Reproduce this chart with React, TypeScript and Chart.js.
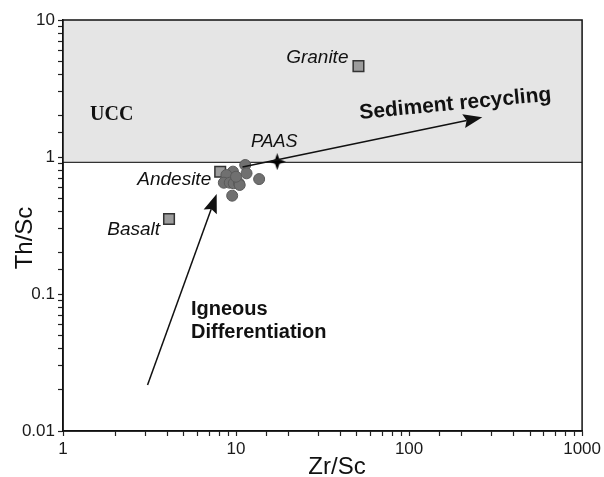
import React, { useEffect, useRef } from 'react';
import { Chart, registerables } from 'chart.js';

Chart.register(...registerables);

// ---- data ----
const sampleZrSc = [11.3, 9.6, 11.5, 13.6, 8.8, 8.5, 9.2, 9.7, 10.4, 10.5, 9.5, 10.0];
const sampleThSc = [0.874, 0.782, 0.76, 0.69, 0.739, 0.649, 0.649, 0.643, 0.643, 0.625, 0.522, 0.718];

const refNames = ['Granite', 'Andesite', 'Basalt'];
const refZrSc = [51, 8.1, 4.1];
const refThSc = [4.61, 0.78, 0.353];

const paasZrSc = [17.3];
const paasThSc = [0.925];

const uccThSc = 0.915;

// arrows: [igneous differentiation, sediment recycling]
const arrowFromZrSc = [3.08, 10.9];
const arrowFromThSc = [0.0217, 0.845];
const arrowToZrSc = [7.73, 265];
const arrowToThSc = [0.537, 1.95];

const xTickValues = [1, 10, 100, 1000];
const yTickValues = [0.01, 0.1, 1, 10];

const SANS = "'Liberation Sans', Arial, sans-serif";
const SERIF = "'Liberation Serif', 'Times New Roman', serif";

function makeStar(size: number) {
  const c = document.createElement('canvas');
  c.width = size;
  c.height = size;
  const ctx = c.getContext('2d')!;
  const h = size / 2;
  const w = size * 0.13;
  ctx.fillStyle = '#000';
  ctx.beginPath();
  ctx.moveTo(h, 0);
  ctx.lineTo(h + w, h - w);
  ctx.lineTo(size, h);
  ctx.lineTo(h + w, h + w);
  ctx.lineTo(h, size);
  ctx.lineTo(h - w, h + w);
  ctx.lineTo(0, h);
  ctx.lineTo(h - w, h - w);
  ctx.closePath();
  ctx.fill();
  return c;
}

function drawArrow(ctx: CanvasRenderingContext2D, x1: number, y1: number, x2: number, y2: number, len: number, half: number) {
  const a = Math.atan2(y2 - y1, x2 - x1);
  const c = Math.cos(a), s = Math.sin(a);
  const bx = x2 - len * c, by = y2 - len * s;
  const nx = x2 - (len - 3) * c, ny = y2 - (len - 3) * s;
  ctx.beginPath();
  ctx.moveTo(x1, y1);
  ctx.lineTo(nx, ny);
  ctx.stroke();
  ctx.beginPath();
  ctx.moveTo(x2, y2);
  ctx.lineTo(bx - half * s, by + half * c);
  ctx.lineTo(nx, ny);
  ctx.lineTo(bx + half * s, by - half * c);
  ctx.closePath();
  ctx.fill();
}

function isPow10(v: number) {
  const l = Math.log10(v);
  return Math.abs(l - Math.round(l)) < 1e-6;
}
function fmt(v: number) {
  const e = Math.round(Math.log10(v));
  return e < 0 ? Math.pow(10, e).toFixed(-e) : String(Math.round(Math.pow(10, e)));
}

const bandPlugin = {
  id: 'uccBand',
  beforeDatasetsDraw(chart: any) {
    const { ctx, chartArea: ca, scales } = chart;
    const y = scales.y.getPixelForValue(uccThSc);
    ctx.save();
    ctx.fillStyle = '#e5e5e5';
    ctx.fillRect(ca.left, ca.top, ca.right - ca.left, y - ca.top);
    ctx.strokeStyle = '#333';
    ctx.lineWidth = 1.2;
    ctx.beginPath();
    ctx.moveTo(ca.left, y);
    ctx.lineTo(ca.right, y);
    ctx.stroke();
    ctx.restore();
  },
};

const annotationPlugin = {
  id: 'annotations',
  afterDatasetsDraw(chart: any) {
    const { ctx, chartArea: ca, scales } = chart;
    const xs = scales.x, ys = scales.y;
    const px = (v: number) => xs.getPixelForValue(v);
    const py = (v: number) => ys.getPixelForValue(v);
    ctx.save();

    // frame
    ctx.strokeStyle = '#111';
    ctx.lineWidth = 1.5;
    ctx.strokeRect(ca.left, ca.top, ca.right - ca.left, ca.bottom - ca.top);

    // arrows
    ctx.strokeStyle = '#111';
    ctx.fillStyle = '#111';
    ctx.lineWidth = 1.5;
    for (let i = 0; i < arrowFromZrSc.length; i++) {
      drawArrow(ctx, px(arrowFromZrSc[i]), py(arrowFromThSc[i]), px(arrowToZrSc[i]), py(arrowToThSc[i]), 19, 7);
    }

    ctx.fillStyle = '#111';
    ctx.textBaseline = 'alphabetic';

    // reference labels
    ctx.font = `italic 19px ${SANS}`;
    ctx.textAlign = 'right';
    const offs: Record<string, [number, number]> = {
      Granite: [-10, -3],
      Andesite: [-9, 13],
      Basalt: [-9, 16],
    };
    refNames.forEach((n, i) => {
      const o = offs[n];
      ctx.fillText(n, px(refZrSc[i]) + o[0], py(refThSc[i]) + o[1]);
    });
    ctx.font = `italic 18px ${SANS}`;
    ctx.textAlign = 'center';
    ctx.fillText('PAAS', px(paasZrSc[0]) - 3, py(paasThSc[0]) - 15);

    // UCC
    ctx.font = `bold 20px ${SERIF}`;
    ctx.textAlign = 'left';
    ctx.fillText('UCC', ca.left + 27, ca.top + 100);

    // Sediment recycling (rotated)
    ctx.save();
    ctx.translate(ca.left + 297, ca.top + 99);
    ctx.rotate((-5.5 * Math.PI) / 180);
    ctx.font = `bold 21px ${SANS}`;
    ctx.textAlign = 'left';
    ctx.fillText('Sediment recycling', 0, 0);
    ctx.restore();

    // Igneous Differentiation
    ctx.font = `bold 20px ${SANS}`;
    ctx.textAlign = 'left';
    ctx.fillText('Igneous', ca.left + 128, ca.top + 295);
    ctx.fillText('Differentiation', ca.left + 128, ca.top + 318);

    // axis titles
    ctx.fillStyle = '#111';
    ctx.font = `24px ${SANS}`;
    ctx.textAlign = 'center';
    ctx.fillText('Zr/Sc', 337, 474);
    ctx.save();
    ctx.translate(32, 238);
    ctx.rotate(-Math.PI / 2);
    ctx.fillText('Th/Sc', 0, 0);
    ctx.restore();

    ctx.restore();
  },
};

export default function App() {
  const ref = useRef<HTMLCanvasElement | null>(null);

  useEffect(() => {
    document.body.style.margin = '0';
    const canvas = ref.current!;
    const star = makeStar(17);

    const chart = new Chart(canvas, {
      type: 'scatter',
      data: {
        datasets: [
          {
            label: 'Samples',
            data: sampleZrSc.map((x, i) => ({ x, y: sampleThSc[i] })),
            pointStyle: 'circle',
            radius: 5.5,
            backgroundColor: '#707070',
            borderColor: '#5a5a5a',
            borderWidth: 1,
          },
          {
            label: 'Reference rocks',
            data: refZrSc.map((x, i) => ({ x, y: refThSc[i] })),
            pointStyle: 'rect',
            radius: 7.5,
            backgroundColor: '#9c9c9c',
            borderColor: '#333',
            borderWidth: 1.5,
          },
          {
            label: 'PAAS',
            data: paasZrSc.map((x, i) => ({ x, y: paasThSc[i] })),
            pointStyle: star as any,
            radius: 8,
          },
        ],
      },
      options: {
        responsive: false,
        animation: false,
        events: [],
        layout: { padding: { top: 20, right: 21, left: 0, bottom: 0 } },
        plugins: {
          legend: { display: false },
          tooltip: { enabled: false },
        },
        scales: {
          x: {
            type: 'logarithmic',
            min: xTickValues[0],
            max: xTickValues[xTickValues.length - 1],
            afterFit: (s: any) => { s.height = 46; },
            grid: { drawOnChartArea: false, drawTicks: true, tickLength: 5, tickColor: '#222', tickWidth: 1.2 },
            border: { display: true, color: '#111', width: 1.5 },
            ticks: {
              autoSkip: false,
              maxRotation: 0,
              padding: 3,
              color: '#1a1a1a',
              font: { family: SANS, size: 17 },
              callback: (v: any) => (isPow10(Number(v)) ? fmt(Number(v)) : ''),
            },
          },
          y: {
            type: 'logarithmic',
            min: yTickValues[0],
            max: yTickValues[yTickValues.length - 1],
            afterFit: (s: any) => { s.width = 63; },
            grid: { drawOnChartArea: false, drawTicks: true, tickLength: 5, tickColor: '#222', tickWidth: 1.2 },
            border: { display: true, color: '#111', width: 1.5 },
            ticks: {
              autoSkip: false,
              padding: 3,
              color: '#1a1a1a',
              font: { family: SANS, size: 17 },
              callback: (v: any) => (isPow10(Number(v)) ? fmt(Number(v)) : ''),
            },
          },
        },
      } as any,
      plugins: [bandPlugin, annotationPlugin],
    });

    return () => chart.destroy();
  }, []);

  return (
    <div style={{ position: 'fixed', left: 0, top: 0, width: 604, height: 477, background: '#fff' }}>
      <canvas ref={ref} width={604} height={477} style={{ width: 604, height: 477, display: 'block' }} />
    </div>
  );
}
